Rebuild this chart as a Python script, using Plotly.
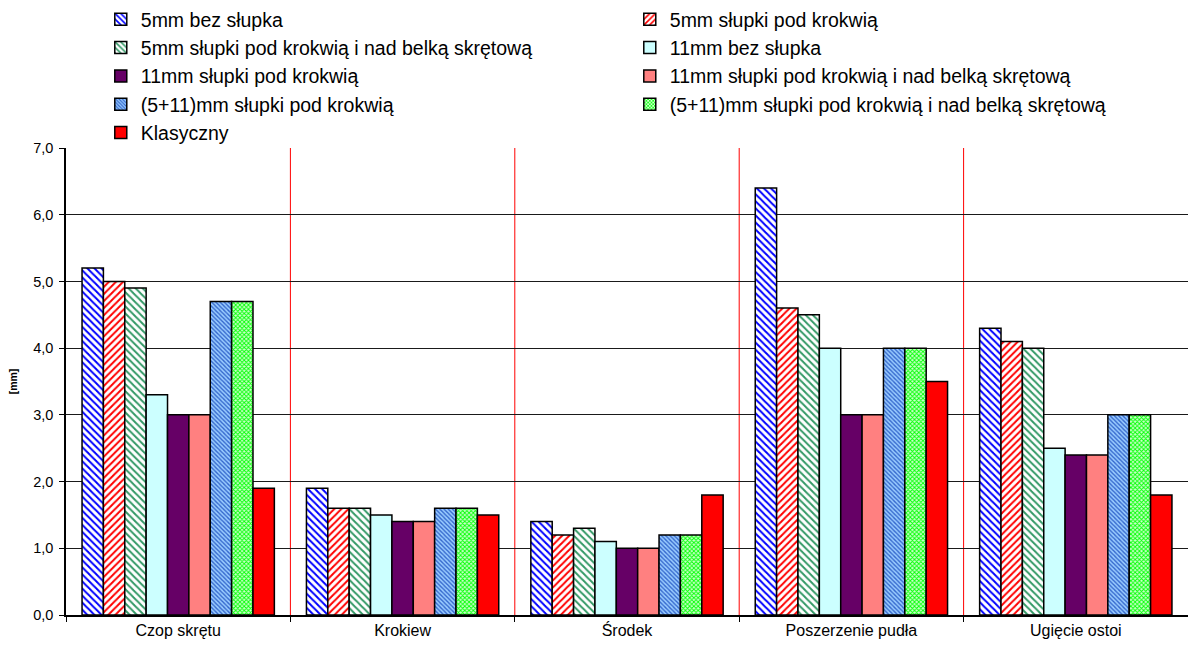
import plotly.graph_objects as go

categories = ["Czop skrętu", "Krokiew", "Środek", "Poszerzenie pudła", "Ugięcie ostoi"]

series_names = [
    "5mm bez słupka",
    "5mm słupki pod krokwią",
    "5mm słupki pod krokwią i nad belką skrętową",
    "11mm bez słupka",
    "11mm słupki pod krokwią",
    "11mm słupki pod krokwią i nad belką skrętową",
    "(5+11)mm słupki pod krokwią",
    "(5+11)mm słupki pod krokwią i nad belką skrętową",
    "Klasyczny",
]

s_5mm_bez = [5.2, 1.9, 1.4, 6.4, 4.3]
s_5mm_krokiew = [5.0, 1.6, 1.2, 4.6, 4.1]
s_5mm_krokiew_belka = [4.9, 1.6, 1.3, 4.5, 4.0]
s_11mm_bez = [3.3, 1.5, 1.1, 4.0, 2.5]
s_11mm_krokiew = [3.0, 1.4, 1.0, 3.0, 2.4]
s_11mm_krokiew_belka = [3.0, 1.4, 1.0, 3.0, 2.4]
s_5_11_krokiew = [4.7, 1.6, 1.2, 4.0, 3.0]
s_5_11_krokiew_belka = [4.7, 1.6, 1.2, 4.0, 3.0]
s_klasyczny = [1.9, 1.5, 1.8, 3.5, 1.8]

series_values = [
    s_5mm_bez, s_5mm_krokiew, s_5mm_krokiew_belka,
    s_11mm_bez, s_11mm_krokiew, s_11mm_krokiew_belka,
    s_5_11_krokiew, s_5_11_krokiew_belka, s_klasyczny,
]

# fill style for every series: (base colour, pattern shape, pattern colour, size, solidity)
styles = [
    ("white", "\\", "#0000FF", 5, 0.4),
    ("white", "/", "#FF0000", 5, 0.4),
    ("white", "\\", "#339966", 5, 0.4),
    ("#CCFFFF", "", None, None, None),
    ("#660066", "", None, None, None),
    ("#FF8080", "", None, None, None),
    ("#99CCFF", "\\", "#3366CC", 3, 0.45),
    ("#CCFFCC", "x", "#00FF00", 3, 0.5),
    ("#FF0000", "", None, None, None),
]

FONT = "Liberation Sans, Arial, sans-serif"

fig = go.Figure()
for name, vals, (bg, shape, fg, size, solid) in zip(series_names, series_values, styles):
    if shape:
        pattern = dict(shape=shape, fgcolor=fg, bgcolor=bg, size=size,
                       solidity=solid, fillmode="replace")
        marker = dict(color=bg, pattern=pattern, line=dict(color="black", width=1.5))
    else:
        marker = dict(color=bg, line=dict(color="black", width=1.5))
    fig.add_trace(go.Bar(x=categories, y=vals, name=name, marker=marker))

# red separators between the category groups
for i in range(1, len(categories)):
    fig.add_shape(type="line", xref="x", yref="paper",
                  x0=i - 0.5, x1=i - 0.5, y0=0, y1=1,
                  line=dict(color="#FF0000", width=1), layer="below")

fig.update_layout(
    width=1188,
    height=646,
    barmode="group",
    bargap=0.143,
    bargroupgap=0,
    separators=", ",
    plot_bgcolor="white",
    paper_bgcolor="white",
    font=dict(family=FONT, color="black", size=14),
    margin=dict(l=66, r=0, t=147, b=31),
    legend=dict(
        orientation="h",
        x=0.031,
        xanchor="left",
        y=1.316,
        yanchor="top",
        entrywidth=484,
        entrywidthmode="pixels",
        font=dict(family=FONT, size=19.5, color="black"),
        bgcolor="rgba(0,0,0,0)",
        itemclick=False,
        traceorder="normal",
    ),
    showlegend=True,
)

fig.update_xaxes(
    type="category",
    tickson="boundaries",
    showgrid=False,
    showline=True,
    linecolor="black",
    linewidth=1.5,
    ticks="outside",
    ticklen=5,
    tickcolor="black",
    tickfont=dict(family=FONT, size=16, color="black"),
)

fig.update_yaxes(
    range=[0, 7],
    dtick=1,
    tickformat=".1f",
    showgrid=True,
    gridcolor="#1a1a1a",
    gridwidth=1,
    zeroline=False,
    showline=True,
    linecolor="black",
    linewidth=1.5,
    ticks="outside",
    ticklen=5,
    tickcolor="black",
    ticklabelstandoff=3,
    tickfont=dict(family=FONT, size=14.5, color="black"),
    title=dict(text="<b>[mm]</b>", font=dict(family=FONT, size=10.5, color="black"), standoff=14),
)

fig.write_html("out.html")
